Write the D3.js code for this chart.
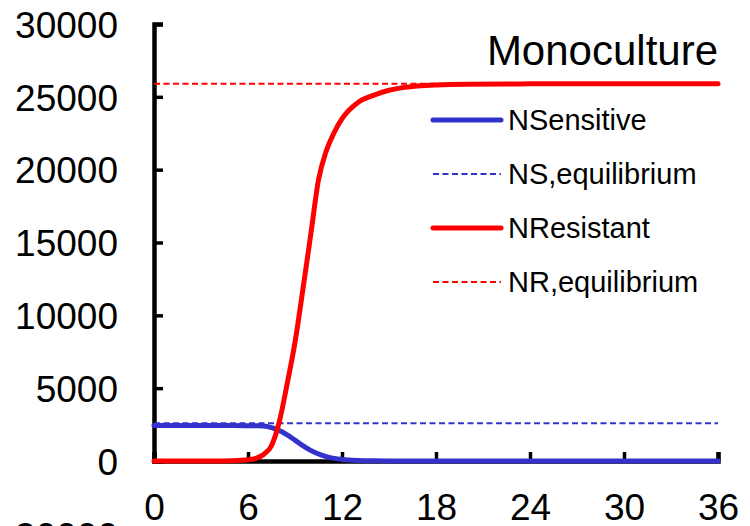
<!DOCTYPE html>
<html><head><meta charset="utf-8">
<script src="https://cdn.jsdelivr.net/npm/d3@7"></script>
<style>body{margin:0;background:#fff}svg{display:block}text{font-family:"Liberation Sans",Arial,sans-serif}</style>
</head><body>
<svg id="c" width="750" height="526"></svg>
<script>
const times = [0,1,2,3,4,5,6,6.5,7,7.5,8,8.5,9,9.5,10,10.5,11,11.5,12,13,14,15,16,18,20,24,30,36];
const nSensitive = [2430,2430,2430,2430,2430,2430,2425,2415,2395,2290,2090,1790,1430,1060,730,480,300,180,110,40,15,5,2,0,0,0,0,0];
const nResistant = [0,0,0,0,5,20,80,180,450,1050,2700,5300,8150,11750,15500,19300,21300,22550,23500,24600,25100,25450,25650,25820,25870,25890,25900,25900];
const nsEquilibrium = 2600;
const nrEquilibrium = 25900;
const xTicks = [0,6,12,18,24,30,36];
const yTicks = [0,5000,10000,15000,20000,25000,30000];
const title = "Monoculture";
const legendLabels = ["NSensitive","NS,equilibrium","NResistant","NR,equilibrium"];

const svg = d3.select("#c");
const x = d3.scaleLinear().domain([0,36]).range([154,718]);
const y = d3.scaleLinear().domain([0,30000]).range([461,24]);

// axes
const yAxis = svg.append("g").attr("transform","translate(154,0)")
  .call(d3.axisLeft(y).tickValues(yTicks).tickSize(-9).tickPadding(36).tickFormat(d3.format("d")));
const xAxis = svg.append("g").attr("transform","translate(0,461)")
  .call(d3.axisBottom(x).tickValues(xTicks).tickSize(-9).tickPadding(33));
[yAxis,xAxis].forEach(a=>{
  a.select(".domain").attr("stroke","#000").attr("stroke-width",4.5);
  a.selectAll(".tick line").attr("stroke","#000").attr("stroke-width",3.5);
  a.selectAll(".tick text").attr("fill","#000").attr("font-size",37).attr("font-family","Liberation Sans, Arial, sans-serif");
});
yAxis.selectAll(".tick text").attr("dy","0.36em");
xAxis.selectAll(".tick text").attr("dy","0.71em");

// equilibrium lines
svg.append("line").attr("x1",x(0)).attr("x2",x(36)).attr("y1",y(nsEquilibrium)).attr("y2",y(nsEquilibrium))
  .attr("stroke","#3333cc").attr("stroke-width",2).attr("stroke-dasharray","6,3.5");
svg.append("line").attr("x1",x(0)).attr("x2",x(36)).attr("y1",y(nrEquilibrium)).attr("y2",y(nrEquilibrium))
  .attr("stroke","#ff0000").attr("stroke-width",2).attr("stroke-dasharray","6,3.5");

const line = d3.line().x(d=>x(d[0])).y(d=>y(d[1])).curve(d3.curveMonotoneX);
svg.append("path").datum(times.map((t,i)=>[t,nSensitive[i]])).attr("d",line)
  .attr("fill","none").attr("stroke","#3333cc").attr("stroke-width",5).attr("stroke-linecap","round");
svg.append("path").datum(times.map((t,i)=>[t,nResistant[i]])).attr("d",line)
  .attr("fill","none").attr("stroke","#ff0000").attr("stroke-width",5).attr("stroke-linecap","round");

// title
svg.append("text").attr("x",718).attr("y",65).attr("text-anchor","end").attr("font-size",42).attr("fill","#000").text(title);

// legend
const legStyles = [
  {c:"#3333cc",w:5,dash:null},
  {c:"#3333cc",w:2,dash:"6,3.5"},
  {c:"#ff0000",w:5,dash:null},
  {c:"#ff0000",w:2,dash:"6,3.5"}
];
const legY = [120,174,228,282];
legendLabels.forEach((lab,i)=>{
  const s = legStyles[i];
  svg.append("line").attr("x1",433).attr("x2",501).attr("y1",legY[i]).attr("y2",legY[i])
    .attr("stroke",s.c).attr("stroke-width",s.w).attr("stroke-linecap",s.dash?"butt":"round")
    .attr("stroke-dasharray",s.dash);
  svg.append("text").attr("x",508).attr("y",legY[i]+10).attr("font-size",29).attr("fill","#000").text(lab);
});

// label of the next panel, clipped by the image edge
svg.append("text").attr("x",118).attr("y",549).attr("text-anchor","end").attr("font-size",37).attr("fill","#000").text("30000");
</script>
</body></html>
